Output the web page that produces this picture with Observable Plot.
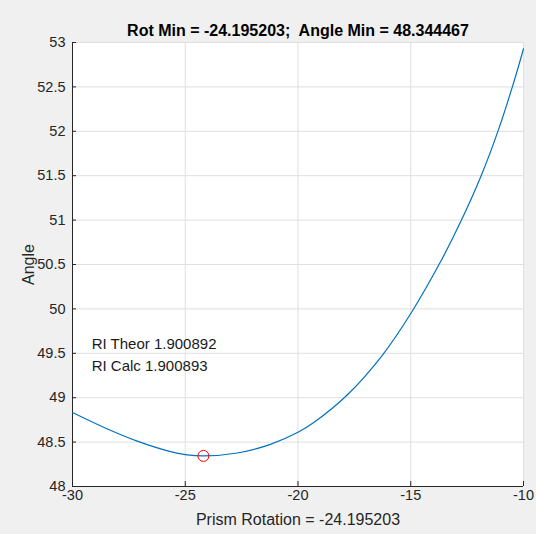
<!DOCTYPE html>
<html>
<head>
<meta charset="utf-8">
<script src="https://cdn.jsdelivr.net/npm/d3@7"></script>
<script src="https://cdn.jsdelivr.net/npm/@observablehq/plot@0.6"></script>
<style>
  html, body { margin: 0; padding: 0; background: #f0f0f0; }
  #chart { width: 536px; height: 534px; }
</style>
</head>
<body>
<div id="chart"></div>
<script>
// Data
const rotation = [-30, -28.6, -27.13, -25.65, -25, -24.195, -22.7, -21.22, -20, -19.3, -17.82, -16.27, -14.97, -13.68, -12.75, -11.86, -11.12, -10.47, -10];
const angle    = [48.833, 48.665, 48.511, 48.393, 48.36, 48.344, 48.377, 48.475, 48.61, 48.72, 49.03, 49.475, 49.96, 50.53, 51.0, 51.51, 52.01, 52.52, 52.93];

const rotMin = [-24.195203];
const angleMin = [48.344467];

const xTicks = [-30, -25, -20, -15, -10];
const yTicks = [48, 48.5, 49, 49.5, 50, 50.5, 51, 51.5, 52, 52.5, 53];

const titleText = ["Rot Min = -24.195203;  Angle Min = 48.344467"];
const xLabel = ["Prism Rotation = -24.195203"];
const yLabel = ["Angle"];
const noteText = ["RI Theor 1.900892", "RI Calc 1.900893"];
const noteX = [-29.15, -29.15];
const noteY = [49.6, 49.35];

const curve = rotation.map((r, i) => ({r, a: angle[i]}));
const minPt = rotMin.map((r, i) => ({r, a: angleMin[i]}));
const notes = noteText.map((t, i) => ({t, x: noteX[i], y: noteY[i]}));

const ink = "#262626";
const gridColor = "#dfdfdf";
const font = "'Liberation Sans', Arial, sans-serif";

const chart = Plot.plot({
  width: 536,
  height: 534,
  marginLeft: 72,
  marginRight: 13,
  marginTop: 42,
  marginBottom: 48,
  style: {background: "transparent", fontFamily: font, fontSize: "14px", color: ink, overflow: "visible"},
  x: {domain: [-30, -10]},
  y: {domain: [48, 53]},
  marks: [
    Plot.frame({fill: "white", stroke: null}),
    Plot.gridX(xTicks, {stroke: gridColor, strokeOpacity: 1}),
    Plot.gridY(yTicks, {stroke: gridColor, strokeOpacity: 1}),
    Plot.axisX(xTicks, {tickSize: -5, tickPadding: 8.5, tickFormat: d => String(d), label: null, fontSize: 14.5, stroke: ink, fill: ink}),
    Plot.axisY(yTicks, {tickSize: -4, tickPadding: 11, tickFormat: d => String(d), label: null, fontSize: 14.5, stroke: ink, fill: ink}),
    Plot.ruleX([-30], {stroke: ink}),
    Plot.ruleY([48], {stroke: ink}),
    Plot.line(curve, {x: "r", y: "a", stroke: "#0072BD", strokeWidth: 1.2, curve: "catmull-rom"}),
    Plot.dot(minPt, {x: "r", y: "a", r: 5.5, stroke: "#ff0000", strokeWidth: 1, fill: "none"}),
    Plot.text(notes, {x: "x", y: "y", text: "t", textAnchor: "start", fontSize: 15, fill: "#1a1a1a"}),
    Plot.text(titleText, {frameAnchor: "top", textAnchor: "middle", lineAnchor: "bottom", dy: -7, fontSize: 16, fontWeight: "bold", fill: "#000"}),
    Plot.text(xLabel, {frameAnchor: "bottom", textAnchor: "middle", lineAnchor: "top", dy: 27, fontSize: 16, fill: ink}),
    Plot.text(yLabel, {frameAnchor: "left", textAnchor: "middle", lineAnchor: "top", rotate: -90, dx: -50, fontSize: 16, fill: ink})
  ]
});
document.getElementById("chart").appendChild(chart);
</script>
</body>
</html>
